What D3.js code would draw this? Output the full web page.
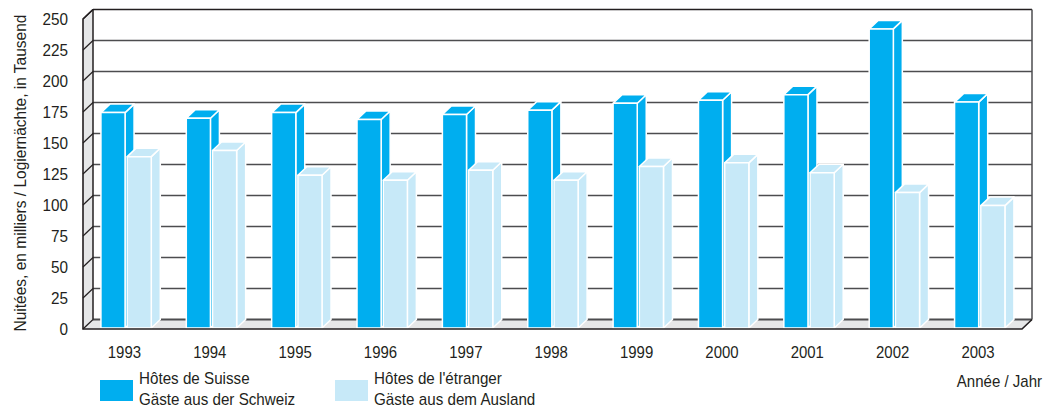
<!DOCTYPE html>
<html><head><meta charset="utf-8">
<script src="https://cdn.jsdelivr.net/npm/d3@7"></script>
<style>
html,body{margin:0;padding:0;background:#fff;}
text{font-family:"Liberation Sans",Arial,Helvetica,sans-serif;fill:#231f20;}
</style></head>
<body><svg id="chart" width="1048" height="413"></svg>
<script>
const years = ["1993","1994","1995","1996","1997","1998","1999","2000","2001","2002","2003"];
const swissGuests = [174.5,170,174.5,169,173,176.5,182,184.5,189,242,183];
const foreignGuests = [139,144,124,120,128,120,131,134,126,110,99.5];
const yTicks = [0,25,50,75,100,125,150,175,200,225,250];
const seriesNames = [["Hôtes de Suisse","Gäste aus der Schweiz"],["Hôtes de l'étranger","Gäste aus dem Ausland"]];
const colors = ["#00aeef","#c7e9f8"];

const svg = d3.select("#chart");
const DX = 10, DY = -9.5;   // wall depth
const BDX = 9, BDY = -8.5;  // bar depth
const x = d3.scaleBand().domain(years).range([83, 1022]).paddingInner(0).paddingOuter(0);
const bw = x.bandwidth();
const xs = d3.scaleBand().domain([0,1]).range([0.21*bw, 0.80*bw]).paddingInner(0.08);
const y = d3.scaleLinear().domain([0,250]).range([329, 19]);

const x0 = x.range()[0], x1 = x.range()[1];
const yTop = y(250), yBot = y(0);
const pts = a => a.map(p=>p.join(",")).join(" ");

function label(parent, tx, ty, str, size, sx, anchor){
  return parent.append("text")
    .attr("transform",`translate(${tx},${ty}) scale(${sx},1)`)
    .attr("dy","0.35em").attr("text-anchor",anchor).attr("font-size",size).text(str);
}

// left wall
svg.append("polygon").attr("points", pts([[x0,yBot],[x0,yTop],[x0+DX,yTop+DY],[x0+DX,yBot+DY]])).attr("fill","#e6e7e8");
// floor
svg.append("polygon").attr("points", pts([[x0,yBot],[x1,yBot],[x1+DX,yBot+DY],[x0+DX,yBot+DY]])).attr("fill","#e6e7e8");

// gridlines on back wall and diagonals on left wall
yTicks.forEach(t=>{
  svg.append("line").attr("x1",x0+DX).attr("x2",x1+DX).attr("y1",y(t)+DY).attr("y2",y(t)+DY)
    .attr("stroke", t===250 ? "#231f20" : "#4d4d4f").attr("stroke-width", t===0?2:1.6);
  svg.append("line").attr("x1",x0).attr("x2",x0+DX).attr("y1",y(t)).attr("y2",y(t)+DY)
    .attr("stroke","#231f20").attr("stroke-width",1.2);
});
// back wall borders
svg.append("line").attr("x1",x0+DX).attr("x2",x0+DX).attr("y1",yTop+DY).attr("y2",yBot+DY).attr("stroke","#231f20").attr("stroke-width",1.5);
svg.append("line").attr("x1",x1+DX).attr("x2",x1+DX).attr("y1",yTop+DY).attr("y2",yBot+DY).attr("stroke","#4d4d4f").attr("stroke-width",1.5);

// bars
const series = [swissGuests, foreignGuests];
const g = svg.append("g");
years.forEach((yr,i)=>{
  [0,1].forEach(s=>{
    const v = series[s][i];
    const bx = x(yr)+xs(s), w = xs.bandwidth();
    const top = y(v), bot = y(0)-1;
    const gg = g.append("g").attr("fill",colors[s]).attr("stroke","#fff").attr("stroke-width",1.5).attr("stroke-linejoin","round");
    gg.append("polygon").attr("points",pts([[bx+w,bot],[bx+w,top],[bx+w+BDX,top+BDY],[bx+w+BDX,bot+BDY]]));
    gg.append("polygon").attr("points",pts([[bx,top],[bx+w,top],[bx+w+BDX,top+BDY],[bx+BDX,top+BDY]]));
    gg.append("rect").attr("x",bx).attr("y",top).attr("width",w).attr("height",bot-top);
  });
});

// front edges
svg.append("polyline").attr("points",pts([[x0+DX,yTop+DY],[x0,yTop],[x0,yBot],[x1,yBot],[x1+DX,yBot+DY]]))
  .attr("fill","none").attr("stroke","#231f20").attr("stroke-width",1.6);

// y tick labels
const gy = svg.append("g");
yTicks.forEach(d=>label(gy, 68, y(d), d, 17, 0.9, "end"));

// x labels
const gx = svg.append("g");
years.forEach(d=>label(gx, x(d)+bw*0.485, 352, d, 17, 0.88, "middle"));

// y title
svg.append("text").attr("transform","translate(20,173) rotate(-90) scale(0.97,1)").attr("text-anchor","middle")
  .attr("dy","0.35em").attr("font-size",16).text("Nuitées, en milliers / Logiernächte, in Tausend");

// x title
label(svg, 1042, 381, "Année / Jahr", 16, 0.94, "end");

// legend
const legX = [100, 335];
seriesNames.forEach((names,s)=>{
  svg.append("rect").attr("x",legX[s]).attr("y",380).attr("width",33).attr("height",21).attr("fill",colors[s]);
  names.forEach((n,k)=>label(svg, legX[s]+39, 378+k*21, n, 16, 0.95, "start"));
});
</script></body></html>
